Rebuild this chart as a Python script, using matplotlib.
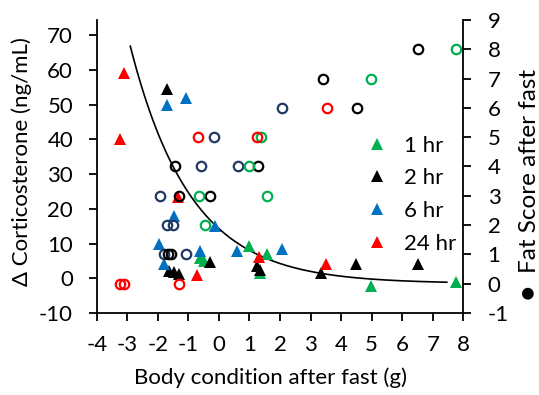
import matplotlib
matplotlib.use("Agg")
import matplotlib.pyplot as plt
import numpy as np

plt.rcParams['font.family'] = ['Lato', 'DejaVu Sans']
plt.rcParams['axes.unicode_minus'] = False

# triangles: change in corticosterone (left axis)
green_x = [-0.62, -0.48, 0.97, 1.58, 1.35, 4.97, 7.76]
green_y = [5.8, 5.0, 9.2, 7.1, 1.6, -2.3, -1.1]
black_x = [-1.71, -1.62, -1.48, -1.32, -0.29, 1.24, 1.35, 3.34, 4.49, 6.53]
black_y = [54.6, 2.1, 1.8, 1.3, 4.7, 3.5, 2.3, 1.5, 4.0, 4.0]
blue_x = [-1.71, -1.08, -1.46, -0.13, -1.95, -1.80, -0.62, 0.58, 2.06]
blue_y = [49.8, 51.8, 17.8, 15.0, 10.0, 4.2, 7.9, 7.9, 8.3]
red_x = [-3.10, -3.24, -1.33, -0.71, 1.32, 3.51]
red_y = [59.0, 40.0, 23.5, 1.0, 6.1, 4.2]

# circles: fat score after fast (right axis)
navy_cx = [2.06, -0.16, -0.60, 0.62, -1.93, -1.71, -1.49, -1.80, -1.08]
navy_cy = [6, 5, 4, 4, 3, 2, 2, 1, 1]
black_cx = [-1.44, 1.29, -0.29, -1.30, -1.68, -1.58, 3.40, 4.51, 6.53]
black_cy = [4, 4, 3, 3, 1, 1, 7, 6, 8]
green_cx = [1.37, 0.99, -0.64, -0.45, 1.56, 4.97, 7.76]
green_cy = [5, 4, 3, 2, 3, 7, 8]
red_cx = [-0.69, 1.25, 3.55, -3.24, -3.11, -1.30]
red_cy = [5, 5, 6, 0, 0, 0]

# fitted trend y = a*exp(-b*x) + c
fit_a, fit_b, fit_c = 15.8, 0.505, -1.5
fit_x0, fit_x1 = -2.9, 7.46

GREEN = '#00B050'
BLUE = '#0070C0'
RED = '#FF0000'
NAVY = '#203864'
FS = 16

fig = plt.figure(figsize=(5.39, 3.95), dpi=100)
ax = fig.add_axes([0.1794, 0.2076, 0.6802, 0.7418])
ax2 = ax.twinx()

xs = np.linspace(fit_x0, fit_x1, 200)
ax.plot(xs, fit_a * np.exp(-fit_b * xs) + fit_c, color='black', lw=1.2, zorder=1)

tri = dict(marker='^', ms=8.5, ls='none', mew=0)
ax.plot(green_x, green_y, color=GREEN, label='1 hr', **tri)
ax.plot(black_x, black_y, color='black', label='2 hr', **tri)
ax.plot(blue_x, blue_y, color=BLUE, label='6 hr', **tri)
ax.plot(red_x, red_y, color=RED, label='24 hr', **tri)

circ = dict(marker='o', ms=6.8, ls='none', mfc='none', mew=1.6)
ax2.plot(navy_cx, navy_cy, mec=NAVY, **circ)
ax2.plot(black_cx, black_cy, mec='black', **circ)
ax2.plot(green_cx, green_cy, mec=GREEN, **circ)
ax2.plot(red_cx, red_cy, mec=RED, **circ)

ax.set_xlim(-4, 8)
ax.set_ylim(-10, 74.4)
ax2.set_ylim(-1, 9)
ax.set_xticks(np.arange(-4, 9, 1))
ax.set_yticks(np.arange(-10, 71, 10))
ax2.set_yticks(np.arange(-1, 10, 1))

for a in (ax, ax2):
    a.spines['top'].set_visible(False)
    for s in a.spines.values():
        s.set_linewidth(1.3)
ax.spines['right'].set_visible(False)
ax2.spines['left'].set_visible(False)
ax2.spines['bottom'].set_visible(False)

ax.tick_params(axis='x', direction='out', length=6, width=1.3, pad=10, labelsize=FS)
ax.tick_params(axis='y', direction='out', length=6, width=1.3, pad=11, labelsize=FS)
ax2.tick_params(axis='y', direction='out', length=6, width=1.3, pad=11.5, labelsize=FS)

ax.set_xlabel('Body condition after fast (g)', fontsize=FS)
ax.set_ylabel('Δ Corticosterone (ng/mL)', fontsize=FS)
ax2.set_ylabel('●  Fat Score after fast', fontsize=17.5, rotation=90)
ax.xaxis.set_label_coords(0.475, -0.185)
ax.yaxis.set_label_coords(-0.176, 0.517)
ax2.yaxis.set_label_coords(1.152, 0.437)

ax.legend(loc='upper left', bbox_to_anchor=(0.710, 0.636), frameon=False,
          fontsize=FS, handlelength=1.0, handletextpad=0.7, labelspacing=0.57,
          borderaxespad=0)

fig.savefig('out.png', dpi=100)
